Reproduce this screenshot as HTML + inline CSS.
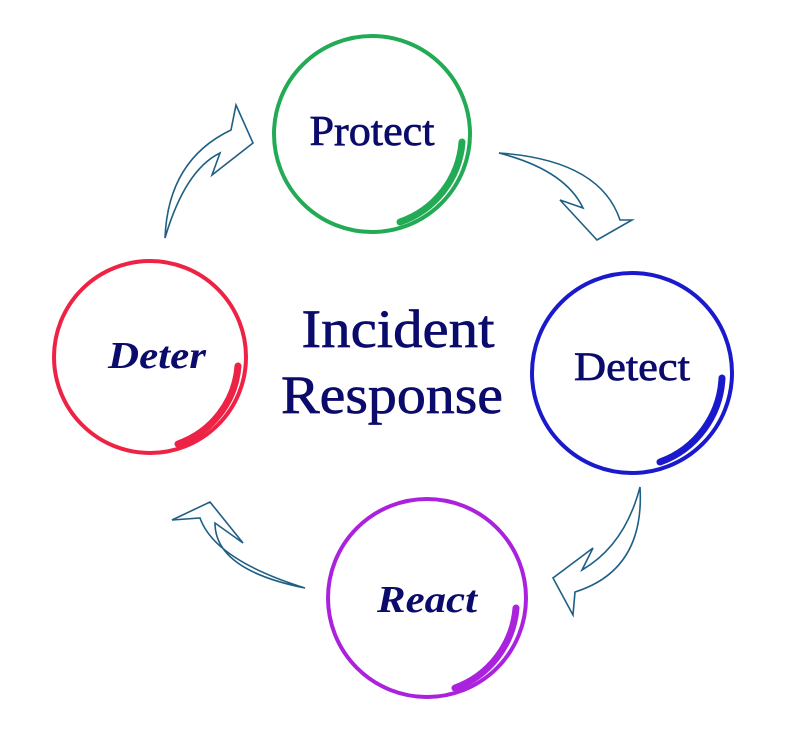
<!DOCTYPE html>
<html><head><style>
html,body{margin:0;padding:0;background:#fff;}
svg{display:block}
text{font-family:"Liberation Serif",serif;fill:#0b0b6b;stroke:#0b0b6b;stroke-width:0.7;}
text.i{stroke:none;}
</style></head><body>
<svg width="800" height="754" viewBox="0 0 800 754">
<g fill="none" stroke-linecap="round">
 <circle cx="372" cy="134" r="98" stroke="#22aa55" stroke-width="4"/>
 <path d="M462 142 A92 92 0 0 1 400 222" stroke="#22aa55" stroke-width="7"/>
 <circle cx="632" cy="373" r="100" stroke="#1a1acc" stroke-width="4"/>
 <path d="M722 378 A94 94 0 0 1 660 462" stroke="#1a1acc" stroke-width="7"/>
 <circle cx="150" cy="357" r="96" stroke="#ee2244" stroke-width="4"/>
 <path d="M238 366 A90 90 0 0 1 178 444" stroke="#ee2244" stroke-width="7"/>
 <circle cx="427" cy="598" r="99" stroke="#aa22dd" stroke-width="4"/>
 <path d="M516 608 A93 93 0 0 1 455 688" stroke="#aa22dd" stroke-width="7"/>
</g>
<g fill="none" stroke="#1f5f85" stroke-width="1.6" stroke-linejoin="miter">
 <path d="M165 238 Q168 160 231 130 L236 105 L253 143 L212 175 L220 153 Q185 170 165 238 Z"/>
 <path d="M499 153 Q600 160 620 220 L632 220 L597 240 L560 200 L583 208 Q565 170 499 153 Z"/>
 <path d="M640 487 Q645 570 575 592 L573 615 L553 578 L593 548 L582 570 Q625 545 640 487 Z"/>
 <path d="M305 588 Q215 570 215 523 L243 543 L210 502 L172 520 L200 518 Q215 560 305 588 Z"/>
</g>
<text x="372" y="145" font-size="42" text-anchor="middle" textLength="125" lengthAdjust="spacingAndGlyphs">Protect</text>
<text x="632" y="380" font-size="40" text-anchor="middle" textLength="116" lengthAdjust="spacingAndGlyphs">Detect</text>
<text class="i" x="157" y="368" font-size="38" text-anchor="middle" font-style="italic" font-weight="bold" textLength="98" lengthAdjust="spacingAndGlyphs">Deter</text>
<text class="i" x="427" y="612" font-size="38" text-anchor="middle" font-style="italic" font-weight="bold" textLength="100" lengthAdjust="spacingAndGlyphs">React</text>
<text x="398" y="347" font-size="54" text-anchor="middle" textLength="193" lengthAdjust="spacingAndGlyphs">Incident</text>
<text x="392" y="413" font-size="54" text-anchor="middle" textLength="222" lengthAdjust="spacingAndGlyphs">Response</text>
</svg>
</body></html>
